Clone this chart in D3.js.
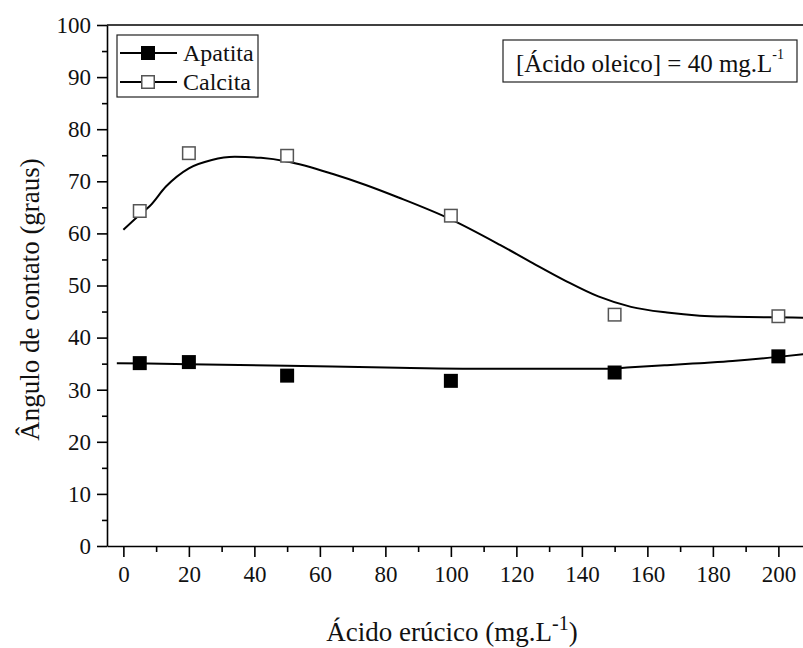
<!DOCTYPE html>
<html><head><meta charset="utf-8">
<script src="https://cdn.jsdelivr.net/npm/d3@7"></script>
<style>
html,body{margin:0;padding:0;background:#fff;}
svg{display:block;font-family:"Liberation Serif","Times New Roman",serif;}
</style></head>
<body><svg id="chart" width="803" height="648"></svg>
<script>
// ---- data ----
const concentrations = [5, 20, 50, 100, 150, 200];
const apatita = [35.1, 35.3, 32.7, 31.7, 33.3, 36.4];
const calcita = [64.3, 75.4, 74.9, 63.4, 44.4, 44.1];
// fitted curves
const calcitaFitX = [0, 5, 8, 13, 20, 27, 34, 42, 50, 64, 74, 84, 100, 115, 125, 135, 145, 155, 166, 176, 186, 197, 210];
const calcitaFitY = [60.7, 63.6, 65.2, 69.0, 72.5, 74.1, 74.7, 74.5, 73.8, 71.4, 69.3, 66.9, 62.7, 57.8, 54.3, 50.9, 47.9, 45.9, 44.8, 44.2, 44.0, 43.9, 43.8];
const apatitaFitX = [-2, 20, 50, 84, 115, 145, 155, 166, 176, 186, 200, 210];
const apatitaFitY = [35.1, 34.9, 34.6, 34.2, 34.0, 34.0, 34.3, 34.7, 35.1, 35.5, 36.3, 37.0];
const xMajorTicks = [0, 20, 40, 60, 80, 100, 120, 140, 160, 180, 200];
const xMinorTicks = [10, 30, 50, 70, 90, 110, 130, 150, 170, 190];
const yMajorTicks = [0, 10, 20, 30, 40, 50, 60, 70, 80, 90, 100];
const yMinorTicks = [5, 15, 25, 35, 45, 55, 65, 75, 85, 95];
const seriesNames = ["Apatita", "Calcita"];

// ---- layout ----
const svg = d3.select("#chart");
const pLeft = 107, pTop = 25, pBottom = 546;
const x = d3.scaleLinear().domain([-5, 210]).range([pLeft, pLeft + 215 * 3.275]);
const y = d3.scaleLinear().domain([0, 100]).range([pBottom, pTop]);
const fontTick = 23;
const serif = "'Liberation Serif','Times New Roman',serif";

// frame line on top
svg.append("line").attr("x1", pLeft).attr("x2", x(210)).attr("y1", pTop).attr("y2", pTop)
  .attr("stroke", "#000").attr("stroke-width", 1.6);

// axes
function styleAxis(g) {
  g.selectAll("path").attr("stroke", "#000").attr("stroke-width", 1.6);
  g.selectAll("line").attr("stroke", "#000").attr("stroke-width", 1.6);
  g.selectAll("text").attr("font-size", fontTick).attr("fill", "#111").attr("font-family", serif);
}
const gx = svg.append("g").attr("transform", `translate(0,${pBottom})`)
  .call(d3.axisBottom(x).tickValues(xMajorTicks).tickSize(11).tickPadding(9).tickSizeOuter(0).tickFormat(d3.format("d")));
styleAxis(gx);
const gxm = svg.append("g").attr("transform", `translate(0,${pBottom})`)
  .call(d3.axisBottom(x).tickValues(xMinorTicks).tickSize(6).tickSizeOuter(0).tickFormat(""));
styleAxis(gxm);
gxm.select("path").remove();

const gy = svg.append("g").attr("transform", `translate(${pLeft},0)`)
  .call(d3.axisLeft(y).tickValues(yMajorTicks).tickSize(10).tickPadding(6).tickSizeOuter(0).tickFormat(d3.format("d")));
styleAxis(gy);
const gym = svg.append("g").attr("transform", `translate(${pLeft},0)`)
  .call(d3.axisLeft(y).tickValues(yMinorTicks).tickSize(5).tickSizeOuter(0).tickFormat(""));
styleAxis(gym);
gym.select("path").remove();

// axis titles
const xt = svg.append("text").attr("x", 452).attr("y", 641).attr("text-anchor", "middle")
  .attr("font-size", 27).attr("fill", "#111");
xt.append("tspan").text("Ácido erúcico (mg.L");
xt.append("tspan").attr("font-size", 20).attr("dy", -11).text("-1");
xt.append("tspan").attr("dy", 11).text(")");

svg.append("text").attr("transform", `translate(39,${(pTop + pBottom) / 2 + 14}) rotate(-90)`)
  .attr("text-anchor", "middle").attr("font-size", 27).attr("fill", "#111")
  .text("Ângulo de contato (graus)");

// fitted curves
const line = d3.line().x(d => x(d[0])).y(d => y(d[1])).curve(d3.curveMonotoneX);
svg.append("path").datum(calcitaFitX.map((v, i) => [v, calcitaFitY[i]]))
  .attr("d", line).attr("fill", "none").attr("stroke", "#000").attr("stroke-width", 2);
svg.append("path").datum(apatitaFitX.map((v, i) => [v, apatitaFitY[i]]))
  .attr("d", line).attr("fill", "none").attr("stroke", "#000").attr("stroke-width", 2);

// markers
const ms = 14;
svg.append("g").selectAll("rect").data(concentrations.map((c, i) => [c, apatita[i]]))
  .join("rect").attr("x", d => x(d[0]) - ms / 2).attr("y", d => y(d[1]) - ms / 2)
  .attr("width", ms).attr("height", ms).attr("fill", "#000");
svg.append("g").selectAll("rect").data(concentrations.map((c, i) => [c, calcita[i]]))
  .join("rect").attr("x", d => x(d[0]) - ms / 2 + 0.75).attr("y", d => y(d[1]) - ms / 2 + 0.75)
  .attr("width", ms - 1.5).attr("height", ms - 1.5).attr("fill", "#fff").attr("stroke", "#555").attr("stroke-width", 1.5);

// legend
const lg = svg.append("g");
lg.append("rect").attr("x", 117).attr("y", 35).attr("width", 141).attr("height", 62)
  .attr("fill", "#fff").attr("stroke", "#222").attr("stroke-width", 1.2);
seriesNames.forEach((name, i) => {
  const cy = 53 + i * 29;
  lg.append("line").attr("x1", 120).attr("x2", 177).attr("y1", cy).attr("y2", cy)
    .attr("stroke", "#000").attr("stroke-width", 1.8);
  if (i === 0) {
    lg.append("rect").attr("x", 148 - ms / 2).attr("y", cy - ms / 2).attr("width", ms).attr("height", ms).attr("fill", "#000");
  } else {
    lg.append("rect").attr("x", 148 - ms / 2 + 0.75).attr("y", cy - ms / 2 + 0.75).attr("width", ms - 1.5).attr("height", ms - 1.5)
      .attr("fill", "#fff").attr("stroke", "#555").attr("stroke-width", 1.5);
  }
  lg.append("text").attr("x", 183).attr("y", cy + 8).attr("font-size", 24).attr("fill", "#111").text(name);
});

// annotation box
svg.append("rect").attr("x", 503).attr("y", 40).attr("width", 294).attr("height", 42)
  .attr("fill", "#fff").attr("stroke", "#222").attr("stroke-width", 1.2);
const at = svg.append("text").attr("x", 650).attr("y", 72).attr("text-anchor", "middle")
  .attr("font-size", 25).attr("fill", "#111");
at.append("tspan").text("[Ácido oleico] = 40 mg.L");
at.append("tspan").attr("font-size", 14).attr("dy", -13).text("-1");
</script>
</body></html>
